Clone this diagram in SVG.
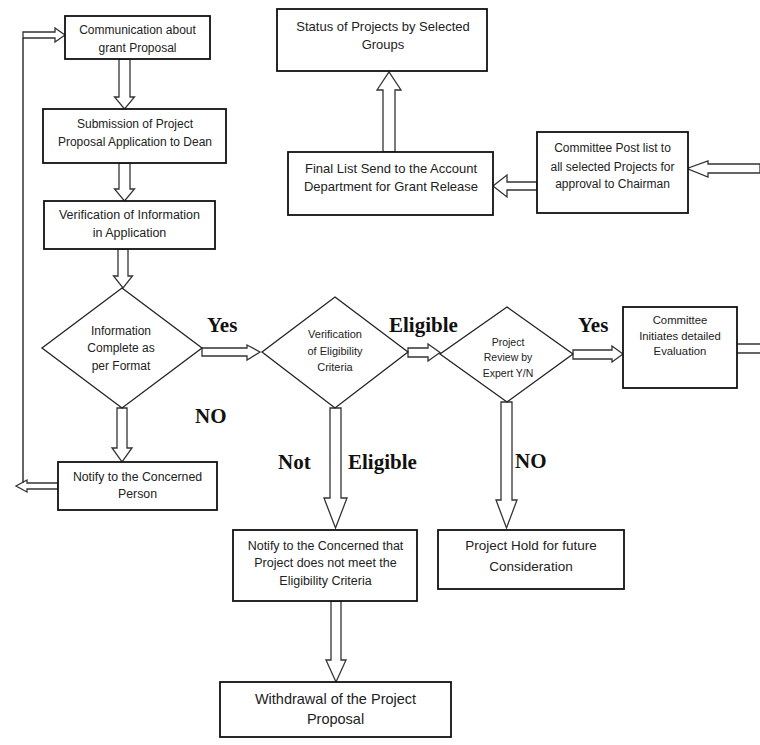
<svg xmlns="http://www.w3.org/2000/svg" width="760" height="745" viewBox="0 0 760 745">
<style>
.box{fill:#fff;stroke:#111;stroke-width:1.8}
.dia{fill:#fff;stroke:#222;stroke-width:1.3}
.arr{fill:#fff;stroke:#333;stroke-width:1.3;stroke-linejoin:miter}
.ln{fill:none;stroke:#333;stroke-width:1.5}
.t{font-family:"Liberation Sans",Arial,sans-serif;fill:#222;text-anchor:middle}
.lb{font-family:"Liberation Serif","Times New Roman",serif;font-weight:bold;font-size:21px;fill:#111}
</style>
<rect width="760" height="745" fill="#fff"/>
<g id="connectors">
<polygon class="arr" points="119,59 130,59 130,97 134.5,97 124.5,109 114.5,97 119,97"/>
<polygon class="arr" points="119,163 130,163 130,189 134.5,189 124.5,201 114.5,189 119,189"/>
<polygon class="arr" points="118,249 128,249 128,276 132.5,276 123,288 113.5,276 118,276"/>
<polygon class="arr" points="117,408 127,408 127,448 132,448 122,462 112,448 117,448"/>
<polygon class="arr" points="58,483 27,483 27,480 16,486 27,492 27,489 58,489"/>
<line class="ln" x1="23" y1="38" x2="23" y2="483"/>
<polygon class="arr" points="23,32 55,32 55,28 65,35 55,42 55,38 23,38"/>
<polygon class="arr" points="202,348 247,348 247,345 260,352 247,360 247,356 202,356"/>
<polygon class="arr" points="408,348 428,348 428,344 440,352.5 428,361 428,357 408,357"/>
<polygon class="arr" points="573,350 612,350 612,346 623,354 612,362 612,359 573,359"/>
<line class="ln" x1="737" y1="344" x2="760" y2="344"/>
<line class="ln" x1="737" y1="353" x2="760" y2="353"/>
<polygon class="arr" points="330,408 341,408 341,498 347,498 335.5,528 324,498 330,498"/>
<polygon class="arr" points="331,601 341,601 341,660 346,660 336,682 326,660 331,660"/>
<polygon class="arr" points="501,402 512,402 512,500 517,500 506.5,528 496,500 501,500"/>
<polygon class="arr" points="383,152 395,152 395,90 401,90 389,72 377,90 383,90"/>
<polygon class="arr" points="537,182 507,182 507,175 493,186 507,197 507,190 537,190"/>
<polygon class="arr" points="760,164 708,164 708,161 687,168.5 708,177 708,173 760,173"/>
</g>
<g id="labels">
<text class="lb" x="207" y="332">Yes</text>
<text class="lb" x="195" y="423">NO</text>
<text class="lb" x="389" y="332">Eligible</text>
<text class="lb" x="578" y="332">Yes</text>
<text class="lb" x="278" y="469">Not</text>
<text class="lb" x="348" y="469">Eligible</text>
<text class="lb" x="515" y="468">NO</text>
</g>
<g id="n_comm">
<rect class="box" x="65" y="16" width="145" height="43"/>
<text class="t" font-size="12" x="137.5" y="34">Communication about</text>
<text class="t" font-size="12" x="137.5" y="52">grant Proposal</text>
</g>
<g id="n_submission">
<rect class="box" x="43" y="109" width="183" height="54"/>
<text class="t" font-size="12" x="135" y="128">Submission of Project</text>
<text class="t" font-size="12" x="135" y="146">Proposal Application to Dean</text>
</g>
<g id="n_verif">
<rect class="box" x="44" y="201" width="171" height="48"/>
<text class="t" font-size="12.5" x="129.5" y="219">Verification of Information</text>
<text class="t" font-size="12.5" x="129.5" y="237">in Application</text>
</g>
<g id="n_info_complete">
<polygon class="dia" points="122,288 202,348 122,408 42,348"/>
<text class="t" font-size="12" x="121" y="335">Information</text>
<text class="t" font-size="12" x="121" y="352">Complete as</text>
<text class="t" font-size="12" x="121" y="370">per Format</text>
</g>
<g id="n_notify_person">
<rect class="box" x="58" y="462" width="159" height="48"/>
<text class="t" font-size="12.3" x="137.5" y="481">Notify to the Concerned</text>
<text class="t" font-size="12.3" x="137.5" y="498">Person</text>
</g>
<g id="n_eligibility">
<polygon class="dia" points="335,297 408,352 335,408 262,352"/>
<text class="t" font-size="11" x="335" y="338">Verification</text>
<text class="t" font-size="11" x="335" y="355">of Eligibility</text>
<text class="t" font-size="11" x="335" y="371">Criteria</text>
</g>
<g id="n_review">
<polygon class="dia" points="507,307 573,354 507,402 440,354"/>
<text class="t" font-size="10.5" x="508" y="346">Project</text>
<text class="t" font-size="10.5" x="508" y="361">Review by</text>
<text class="t" font-size="10.5" x="508" y="377">Expert Y/N</text>
</g>
<g id="n_committee_init">
<rect class="box" x="623" y="307" width="114" height="81"/>
<text class="t" font-size="11.3" x="680" y="324">Committee</text>
<text class="t" font-size="11.3" x="680" y="340">Initiates detailed</text>
<text class="t" font-size="11.3" x="680" y="355">Evaluation</text>
</g>
<g id="n_hold">
<rect class="box" x="438" y="530" width="186" height="59"/>
<text class="t" font-size="13.5" x="531" y="550">Project Hold for future</text>
<text class="t" font-size="13.5" x="531" y="571">Consideration</text>
</g>
<g id="n_notify_not_eligible">
<rect class="box" x="233" y="530" width="184" height="71"/>
<text class="t" font-size="12.5" x="325.5" y="550">Notify to the Concerned that</text>
<text class="t" font-size="12.5" x="325.5" y="567">Project does not meet the</text>
<text class="t" font-size="12.5" x="325.5" y="585">Eligibility Criteria</text>
</g>
<g id="n_withdrawal">
<rect class="box" x="220" y="682" width="231" height="55"/>
<text class="t" font-size="14.5" x="335.5" y="704">Withdrawal of the Project</text>
<text class="t" font-size="14.5" x="335.5" y="724">Proposal</text>
</g>
<g id="n_status">
<rect class="box" x="277" y="9" width="210" height="62"/>
<text class="t" font-size="13" x="383" y="31">Status of Projects by Selected</text>
<text class="t" font-size="13" x="383" y="49">Groups</text>
</g>
<g id="n_final_list">
<rect class="box" x="288" y="152" width="205" height="63"/>
<text class="t" font-size="13" x="391" y="173">Final List Send to the Account</text>
<text class="t" font-size="13" x="391" y="191">Department for Grant Release</text>
</g>
<g id="n_committee_post">
<rect class="box" x="537" y="132" width="151" height="81"/>
<text class="t" font-size="12" x="612.5" y="152">Committee Post list to</text>
<text class="t" font-size="12" x="612.5" y="171">all selected Projects for</text>
<text class="t" font-size="12" x="612.5" y="188">approval to Chairman</text>
</g>
</svg>
